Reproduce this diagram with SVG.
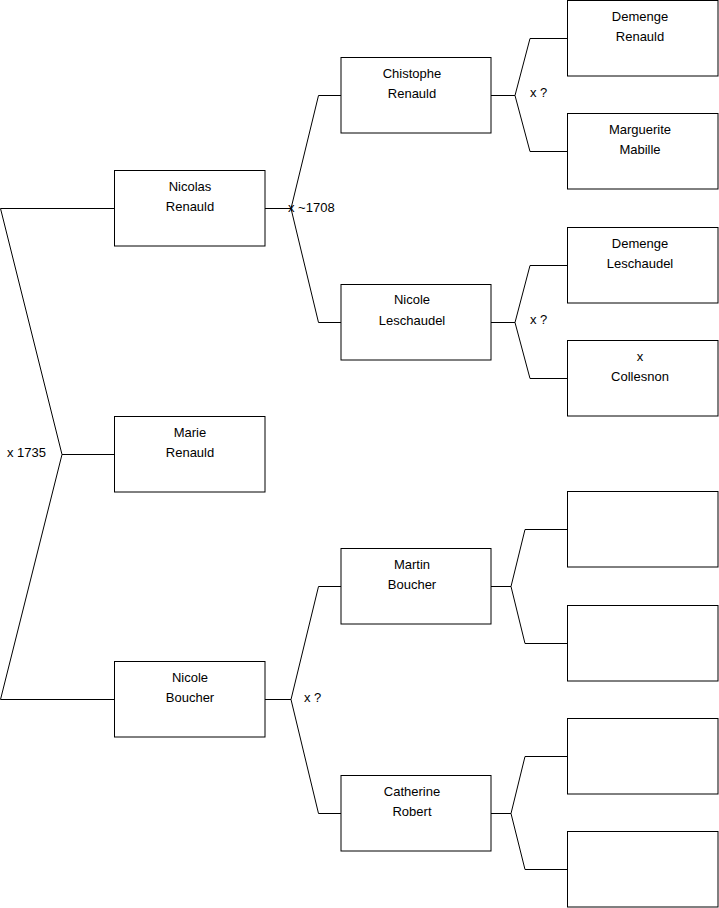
<svg xmlns="http://www.w3.org/2000/svg" width="719" height="908" viewBox="0 0 719 908">
<style>
.box{fill:#fff;stroke:#000;stroke-width:1}
.t{font-family:"Liberation Sans",Arial,sans-serif;font-size:13px;fill:#000;text-anchor:middle}
.l{font-family:"Liberation Sans",Arial,sans-serif;font-size:13px;fill:#000}
.c{fill:none;stroke:#000;stroke-width:1}
</style>
<rect width="719" height="908" fill="#fff"/>
<g id="connectors">
<polyline class="c" points="114,208.5 0.5,208.5 62,454.5 0.5,699.5 114,699.5"/>
<line class="c" x1="62" y1="454.5" x2="114" y2="454.5"/>
<polyline class="c" points="265,208.5 291,208.5"/>
<polyline class="c" points="341,95.5 318.5,95.5 291,208.5 318.5,322.5 341,322.5"/>
<polyline class="c" points="265,699.5 291,699.5"/>
<polyline class="c" points="341,586.5 318.5,586.5 291,699.5 318.5,813.5 341,813.5"/>
<polyline class="c" points="491,95.5 515,95.5"/>
<polyline class="c" points="567,38.5 530,38.5 515,95.5 530,151.5 567,151.5"/>
<polyline class="c" points="491,322.5 515,322.5"/>
<polyline class="c" points="567,265.5 530,265.5 515,322.5 530,378.5 567,378.5"/>
<polyline class="c" points="491,586.5 511,586.5"/>
<polyline class="c" points="567,529.5 525,529.5 511,586.5 525,643.5 567,643.5"/>
<polyline class="c" points="491,813.5 511,813.5"/>
<polyline class="c" points="567,756.5 525,756.5 511,813.5 525,869.5 567,869.5"/>
</g>
<g id="labels">
<text class="l" x="7" y="456.5">x 1735</text>
<text class="l" x="288" y="211.5">x ~1708</text>
<text class="l" x="304" y="702">x ?</text>
<text class="l" x="530" y="97">x ?</text>
<text class="l" x="530" y="324">x ?</text>
</g>
<g id="nicolas-renauld"><rect class="box" x="114.5" y="170.5" width="150.5" height="75.5"/><text class="t" x="190" y="190.5">Nicolas</text><text class="t" x="190" y="211">Renauld</text></g>
<g id="marie-renauld"><rect class="box" x="114.5" y="416.5" width="150.5" height="75.5"/><text class="t" x="190" y="436.5">Marie</text><text class="t" x="190" y="457">Renauld</text></g>
<g id="nicole-boucher"><rect class="box" x="114.5" y="661.5" width="150.5" height="75.5"/><text class="t" x="190" y="681.5">Nicole</text><text class="t" x="190" y="702">Boucher</text></g>
<g id="chistophe-renauld"><rect class="box" x="341" y="57.5" width="150" height="75.5"/><text class="t" x="412" y="77.5">Chistophe</text><text class="t" x="412" y="98">Renauld</text></g>
<g id="nicole-leschaudel"><rect class="box" x="341" y="284.5" width="150" height="75.5"/><text class="t" x="412" y="304">Nicole</text><text class="t" x="412" y="324.5">Leschaudel</text></g>
<g id="martin-boucher"><rect class="box" x="341" y="548.5" width="150" height="75.5"/><text class="t" x="412" y="568.5">Martin</text><text class="t" x="412" y="589">Boucher</text></g>
<g id="catherine-robert"><rect class="box" x="341" y="775.5" width="150" height="75.5"/><text class="t" x="412" y="795.5">Catherine</text><text class="t" x="412" y="816">Robert</text></g>
<g id="demenge-renauld"><rect class="box" x="567.5" y="0.5" width="150.5" height="75.5"/><text class="t" x="640" y="20.5">Demenge</text><text class="t" x="640" y="41">Renauld</text></g>
<g id="marguerite-mabille"><rect class="box" x="567.5" y="113.5" width="150.5" height="75.5"/><text class="t" x="640" y="133.5">Marguerite</text><text class="t" x="640" y="154">Mabille</text></g>
<g id="demenge-leschaudel"><rect class="box" x="567.5" y="227.5" width="150.5" height="75.5"/><text class="t" x="640" y="247.5">Demenge</text><text class="t" x="640" y="268">Leschaudel</text></g>
<g id="x-collesnon"><rect class="box" x="567.5" y="340.5" width="150.5" height="75.5"/><text class="t" x="640" y="361">x</text><text class="t" x="640" y="381">Collesnon</text></g>
<g id="empty-1"><rect class="box" x="567.5" y="491.5" width="150.5" height="75.5"/></g>
<g id="empty-2"><rect class="box" x="567.5" y="605.5" width="150.5" height="75.5"/></g>
<g id="empty-3"><rect class="box" x="567.5" y="718.5" width="150.5" height="75.5"/></g>
<g id="empty-4"><rect class="box" x="567.5" y="831.5" width="150.5" height="75.5"/></g>
</svg>
